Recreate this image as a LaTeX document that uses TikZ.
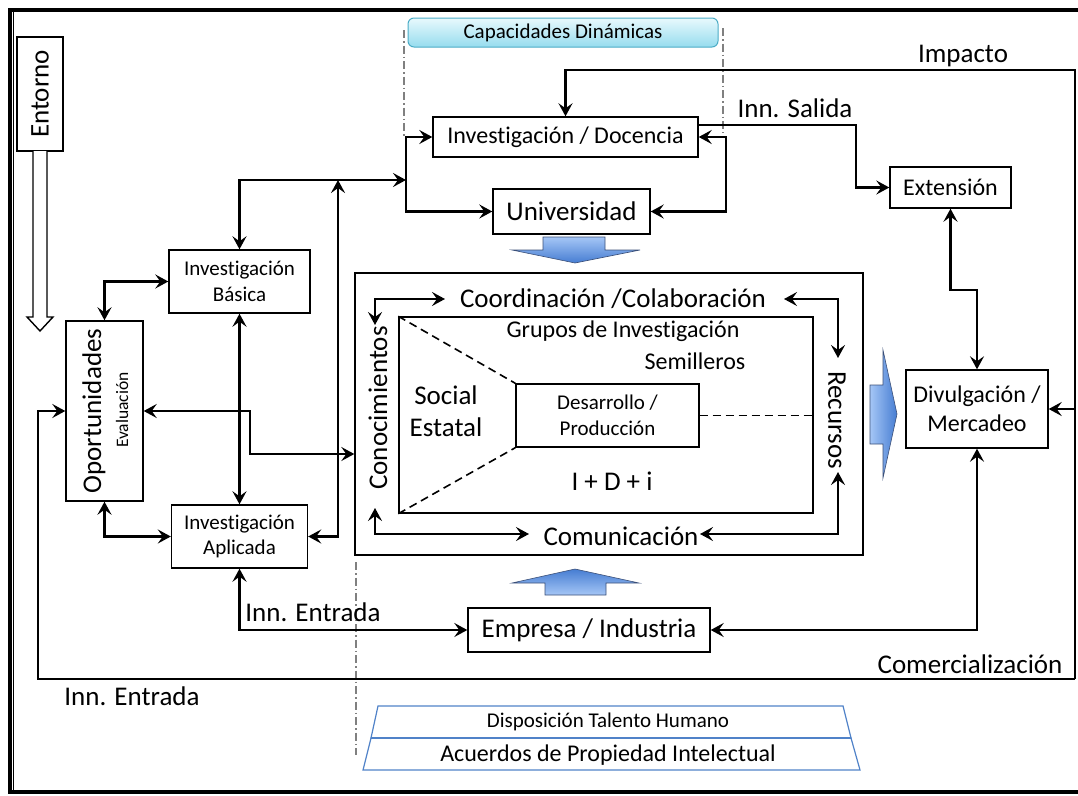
\documentclass[tikz,border=0pt]{standalone}
\usepackage{fontspec}
\setmainfont{Carlito}[Ligatures=NoCommon]
\usetikzlibrary{arrows.meta}

\definecolor{capEdge}{RGB}{75,172,198}
\definecolor{capTop}{RGB}{232,249,253}
\definecolor{capBot}{RGB}{150,220,238}
\definecolor{arrLight}{RGB}{165,198,246}
\definecolor{arrDark}{RGB}{70,125,210}
\definecolor{arrEdge}{RGB}{60,80,120}
\definecolor{trapEdge}{RGB}{80,130,200}

\begin{document}
\begin{tikzpicture}[x=1pt,y=-1pt,
		box/.style={draw,line width=1.4pt,inner sep=0pt,align=center},
		con/.style={line width=2.3pt,-{Stealth[length=13pt,width=14pt,inset=5pt]}},
		dbl/.style={line width=2.3pt,{Stealth[length=13pt,width=14pt,inset=5pt]}-{Stealth[length=13pt,width=14pt,inset=5pt]}},
		fL/.style={font=\fontsize{27}{31}\selectfont},
		fM/.style={font=\fontsize{24}{29}\selectfont},
		fS/.style={font=\fontsize{21}{25.5}\selectfont},
		fXS/.style={font=\fontsize{17.5}{20}\selectfont},
		ddline/.style={draw=gray,line width=1.8pt,dash pattern=on 8pt off 3pt on 1.5pt off 3pt},
		blk/.style={draw=arrEdge,line width=0.6pt}]
		\useasboundingbox (0,0) rectangle (1078,795);
		% frame
		\draw[line width=4pt] (1090,10) -- (10,10) -- (10,792) -- (1090,792);
		\draw[line width=1pt] (13.5,12) -- (13.5,790);

		% entorno + hollow arrow
		\node[box,fL,rotate=90,minimum width=114,minimum height=46] (entorno) at (40,94) {Entorno};
		\draw[line width=1.4pt,fill=white] (33,151) -- (33,317) -- (27,317) -- (40,331) -- (53,317) -- (47,317) -- (47,151);

		% dash-dot guides
		\draw[ddline] (404,30) -- (404,137);
		\draw[ddline] (723,28) -- (723,133);
		\draw[ddline] (356,562) -- (356,755);

		\node[rounded corners=6pt,draw=capEdge,line width=1pt,top color=capTop,bottom color=capBot,
			minimum width=310,minimum height=29,inner sep=0pt,fS] (capac) at (563,32.5) {Capacidades Dinámicas};

		% boxes
		\node[box,fS,minimum width=141,minimum height=63] (basica) at (239.5,281.5) {Investigación\\Básica};
		\node[box,fS,minimum width=136,minimum height=63] (aplicada) at (239.5,536.5) {Investigación\\Aplicada};
		\node[box,minimum width=77,minimum height=180] (oport) at (104.5,411) {};
		\node[fL,rotate=90] (oportTxt) at (94,411) {Oportunidades};
		\node[fXS,rotate=90] (evalTxt) at (122,410) {Evaluación};
		\node[box,fM,minimum width=265,minimum height=40] (invdoc) at (565.5,137) {Investigación / Docencia};
		\node[box,fL,minimum width=157,minimum height=45] (univ) at (571.5,211.5) {Universidad};
		\node[box,fM,minimum width=121,minimum height=41] (ext) at (950.5,187.5) {Extensión};
		\node[box,fM,minimum width=142,minimum height=78] (divul) at (977,409) {Divulgación /\\Mercadeo};
		\node[box,fL,minimum width=242,minimum height=44] (empresa) at (589,630) {Empresa / Industria};

		% central block
		\node[box,minimum width=508,minimum height=282] (mid) at (609,414) {};
		\node[box,minimum width=414,minimum height=196] (grp) at (606,415) {};
		\node[box,fS,minimum width=183,minimum height=63] (desarr) at (607.5,415.5) {Desarrollo /\\Producción};
		\draw[line width=1.6pt,dash pattern=on 8pt off 5pt] (grp.north west) -- (desarr.north west);
		\draw[line width=1.6pt,dash pattern=on 8pt off 5pt] (grp.south west) -- (desarr.south west);
		\draw[line width=1.6pt,dash pattern=on 8pt off 5pt] (desarr.east) -- (desarr.east -| grp.east);
		\node[fL] (coord) at (613,299) {Coordinación /Colaboración};
		\node[fM] (grupos) at (623,331) {Grupos de Investigación};
		\node[fM] (semill) at (695,361) {Semilleros};
		\node[fL] (social) at (446,395) {Social};
		\node[fL] (estatal) at (446,427) {Estatal};
		\node[fL] (idi) at (612,481) {I + D + i};
		\node[fL] (comun) at (621,536) {Comunicación};
		\node[fL,rotate=90] (conoc) at (378,408) {Conocimientos};
		\node[fL,rotate=-90] (recur) at (837,420) {Recursos};

		% block arrows
		\draw[blk,top color=arrLight,bottom color=arrDark] (543,237) -- (605,237) -- (605,250) -- (640,250) -- (575,263) -- (512,250) -- (543,250) -- cycle;
		\draw[blk,top color=arrDark,bottom color=arrLight] (545,595) -- (545,583) -- (512,583) -- (575,569) -- (639,583) -- (606,583) -- (606,595) -- cycle;
		\draw[blk,left color=arrLight,right color=arrDark] (870,385) -- (883,385) -- (883,350) -- (897,414) -- (883,478) -- (883,444) -- (870,444) -- cycle;

		% bottom layers
		\draw[trapEdge,line width=1.2pt] (378,706) -- (843,706) -- (851,738) -- (371,738) -- cycle;
		\draw[trapEdge,line width=1.2pt] (371,738) -- (851,738) -- (860,770) -- (363,770) -- cycle;
		\draw[trapEdge,line width=2.4pt] (371,738) -- (851,738);
		\node[fS] (talento) at (608,722) {Disposición Talento Humano};
		\node[fM] (acuerdos) at (608,755) {Acuerdos de Propiedad Intelectual};

		% labels
		\node[fL] (impacto) at (963,56) {Impacto};
		\node[fL] (salida) at (795,108) {Inn. Salida};
		\node[fL] (comerc) at (970,664) {Comercialización};
		\node[fL] (entrada) at (313,612) {Inn. Entrada};
		\node[fL] (entradaB) at (132,696) {Inn. Entrada};

		% junction points
		\coordinate (jUp) at (406,180);
		\coordinate (jTop) at (338,180);
		\coordinate (kOp) at (250,454);
		\coordinate (rb) at (1075,679);
		\coordinate (rt) at (1075,70);
		\coordinate (lb) at (38,679);
		\coordinate (kEx) at (950.5,290);
		\coordinate (kSal) at (856,125);
		\coordinate (kDoc) at (726,175);

		% left side
		\draw[dbl] (basica.north) |- (jUp);
		\draw[con] (jUp) |- (invdoc.west);
		\draw[con] (jUp) |- (univ.west);
		\draw[dbl] (aplicada.east) -| (jTop);
		\draw[dbl] (basica.west) -| (oport.north);
		\draw[dbl] (basica.south) -- (aplicada.north);
		\draw[dbl] (oport.south) |- (aplicada.west);
		\draw[dbl] (oport.east) -| (kOp) -- (kOp -| mid.west);
		\draw[dbl] (aplicada.south) |- (empresa.west);

		% outer loop
		\draw[con] (rb) -- (rt) -| (invdoc.north);
		\draw[con] (rb) -- (lb) |- (oport.west);
		\draw[con] (divul.east -| rb) -- (divul.east);

		% right side
		\draw[dbl] (empresa.east) -| (divul.south);
		\draw[dbl] (ext.south) -- (kEx) -| (divul.north);
		\draw[con] (kSal -| invdoc.east) -- (kSal) |- (ext.west);
		\draw[dbl] (invdoc.east) -| (kDoc) |- (univ.east);

		% inside the central block
		\coordinate (kTLa) at (375,325);
		\coordinate (kTLb) at (445,299);
		\coordinate (kTRa) at (784,299);
		\coordinate (kTRb) at (838,358);
		\coordinate (kBLa) at (375,508);
		\coordinate (kBLb) at (529,534);
		\coordinate (kBRa) at (700,534);
		\coordinate (kBRb) at (838,472);
		\draw[dbl] (kTLa) |- (kTLb);
		\draw[dbl] (kTRa) -| (kTRb);
		\draw[dbl] (kBLa) |- (kBLb);
		\draw[dbl] (kBRa) -| (kBRb);
\end{tikzpicture}
\end{document}
